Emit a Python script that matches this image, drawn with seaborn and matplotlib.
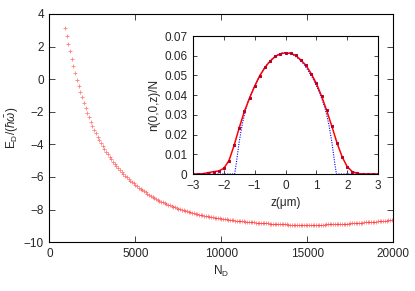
import numpy as np
import pandas as pd
import matplotlib
matplotlib.use("Agg")
import matplotlib.pyplot as plt
import seaborn as sns

# ---------------- data ----------------
N_start, N_stop, N_step = 900, 20000, 100
E_D = [3.12, 2.65, 2.18, 1.71, 1.24, 0.79, 0.36, -0.05, -0.42, -0.76, -1.11, -1.44,
       -1.75, -2.05, -2.34, -2.60, -2.85, -3.09, -3.32, -3.53, -3.74, -3.93,
       -4.11, -4.29, -4.46, -4.62, -4.78, -4.93, -5.07, -5.21, -5.34, -5.47,
       -5.59, -5.71, -5.82, -5.93, -6.03, -6.13, -6.22, -6.31, -6.40, -6.48,
       -6.57, -6.65, -6.73, -6.81, -6.88, -6.95, -7.02, -7.09, -7.16, -7.22,
       -7.28, -7.34, -7.40, -7.46, -7.51, -7.56, -7.61, -7.66, -7.71, -7.75,
       -7.79, -7.83, -7.87, -7.91, -7.95, -7.99, -8.02, -8.06, -8.09, -8.12,
       -8.15, -8.18, -8.21, -8.24, -8.26, -8.29, -8.31, -8.34, -8.36, -8.38,
       -8.40, -8.42, -8.44, -8.46, -8.48, -8.50, -8.52, -8.54, -8.55, -8.57,
       -8.58, -8.60, -8.61, -8.63, -8.64, -8.65, -8.66, -8.68, -8.69, -8.70,
       -8.71, -8.72, -8.73, -8.74, -8.75, -8.76, -8.77, -8.78, -8.79, -8.80,
       -8.81, -8.82, -8.82, -8.83, -8.84, -8.85, -8.85, -8.86, -8.86, -8.87,
       -8.88, -8.88, -8.89, -8.89, -8.90, -8.90, -8.91, -8.91, -8.92, -8.92,
       -8.92, -8.93, -8.93, -8.93, -8.93, -8.94, -8.94, -8.94, -8.94, -8.94,
       -8.94, -8.94, -8.94, -8.93, -8.93, -8.93, -8.93, -8.92, -8.92, -8.92,
       -8.91, -8.91, -8.91, -8.90, -8.90, -8.89, -8.89, -8.88, -8.88, -8.88,
       -8.87, -8.87, -8.86, -8.86, -8.85, -8.84, -8.84, -8.83, -8.82, -8.82,
       -8.81, -8.80, -8.79, -8.79, -8.78, -8.77, -8.76, -8.76, -8.75, -8.74,
       -8.73, -8.72, -8.71, -8.70, -8.69, -8.68, -8.67, -8.66, -8.65, -8.64]
N_D = list(range(N_start, N_stop + 1, N_step))

# inset: numerical density (red, squares), step 1/6 in z
z_num = [-3.0, -2.833, -2.667, -2.5, -2.333, -2.167, -2.0, -1.833, -1.667, -1.5,
         -1.333, -1.167, -1.0, -0.833, -0.667, -0.5, -0.333, -0.167, 0.0,
         0.167, 0.333, 0.5, 0.667, 0.833, 1.0, 1.167, 1.333, 1.5, 1.667,
         1.833, 2.0, 2.167, 2.333, 2.5, 2.667, 2.833, 3.0]
n_num = [0.0, 0.0, 0.0002, 0.0007, 0.0012, 0.0015, 0.0029, 0.0068, 0.0145, 0.0235,
         0.0318, 0.0385, 0.0446, 0.0499, 0.0541, 0.0573, 0.0597, 0.0610, 0.0615,
         0.0612, 0.0602, 0.0578, 0.0551, 0.0509, 0.0460, 0.0396, 0.0323, 0.0243, 0.0159,
         0.0088, 0.0037, 0.0012, 0.0003, 0.0, 0.0, 0.0, 0.0]

# inset: Thomas-Fermi density (blue, dotted)
z_tf = [-3.0, -1.65, -1.6, -1.5, -1.4, -1.3, -1.2, -1.1, -1.0, -0.9, -0.8, -0.7,
        -0.6, -0.5, -0.4, -0.3, -0.2, -0.1, 0.0, 0.1, 0.2, 0.3, 0.4, 0.5, 0.6,
        0.7, 0.8, 0.9, 1.0, 1.1, 1.2, 1.3, 1.4, 1.5, 1.6, 1.65, 3.0]
n_tf = [0.0, 0.0, 0.0050, 0.0165, 0.0255, 0.0322, 0.0372, 0.0413, 0.0448, 0.0480,
        0.0508, 0.0533, 0.0556, 0.0574, 0.0588, 0.0600, 0.0609, 0.0615, 0.0617,
        0.0615, 0.0609, 0.0600, 0.0588, 0.0574, 0.0556, 0.0533, 0.0508, 0.0480,
        0.0448, 0.0413, 0.0372, 0.0322, 0.0255, 0.0165, 0.0050, 0.0, 0.0]

main_xticks = [0, 5000, 10000, 15000, 20000]
main_yticks = [-10, -8, -6, -4, -2, 0, 2, 4]
inset_xticks = [-3, -2, -1, 0, 1, 2, 3]
inset_yticks = [0, 0.01, 0.02, 0.03, 0.04, 0.05, 0.06, 0.07]
inset_yticklabels = ["0", "0.01", "0.02", "0.03", "0.04", "0.05", "0.06", "0.07"]

# ---------------- style ----------------
sns.set_style("ticks")
plt.rcParams['font.family'] = ['Liberation Sans', 'DejaVu Sans']
plt.rcParams['mathtext.fontset'] = 'custom'
plt.rcParams['mathtext.rm'] = 'Liberation Sans'
plt.rcParams['mathtext.it'] = 'Liberation Sans:italic'
plt.rcParams['font.size'] = 8.5

fig = plt.figure(figsize=(4.15, 2.91), dpi=100)
ax = fig.add_axes([0.119, 0.168, 0.829, 0.784])

df_main = pd.DataFrame({"N_D": N_D, "E_D": E_D})
sns.scatterplot(data=df_main, x="N_D", y="E_D", marker="+", s=11, color="#ff2a2a",
                linewidth=0.6, alpha=0.6, ax=ax, legend=False)
ax.set_xlim(0, 20000)
ax.set_ylim(-10, 4)
ax.set_xticks(main_xticks)
ax.set_yticks(main_yticks)
ax.set_xlabel(r"N$_\mathrm{D}$", labelpad=3)
ax.set_ylabel(r"E$_\mathrm{D}$/($\hbar\bar{\omega}$)", labelpad=2)
ax.tick_params(direction="in", top=True, right=True, length=4, width=0.6,
               labelsize=8.5, pad=4)
for sp in ax.spines.values():
    sp.set_linewidth(0.8)
    sp.set_color("black")

# ---------------- inset ----------------
axi = fig.add_axes([0.465, 0.402, 0.446, 0.474])
df_tf = pd.DataFrame({"z": z_tf, "n": n_tf})
df_num = pd.DataFrame({"z": z_num, "n": n_num})
sns.lineplot(data=df_tf, x="z", y="n", color="blue", linestyle=(0, (1, 1.2)),
             linewidth=0.8, ax=axi, legend=False, sort=False)
sns.lineplot(data=df_num, x="z", y="n", color="red", linewidth=1.1, marker="s",
             markersize=2.1, markerfacecolor="#b8002a", markeredgecolor="#b8002a",
             ax=axi, legend=False, sort=False)
axi.set_xlim(-3, 3)
axi.set_ylim(0, 0.07)
axi.set_xticks(inset_xticks)
axi.set_yticks(inset_yticks)
axi.set_yticklabels(inset_yticklabels)
axi.set_xlabel("z(\u03bcm)", labelpad=4)
axi.set_ylabel("n(0,0,z)/N", labelpad=3)
axi.tick_params(direction="in", top=True, right=True, length=3, width=0.6,
                labelsize=8.5, pad=4)
for sp in axi.spines.values():
    sp.set_linewidth(0.8)
    sp.set_color("black")

fig.savefig("out.png", dpi=100)
